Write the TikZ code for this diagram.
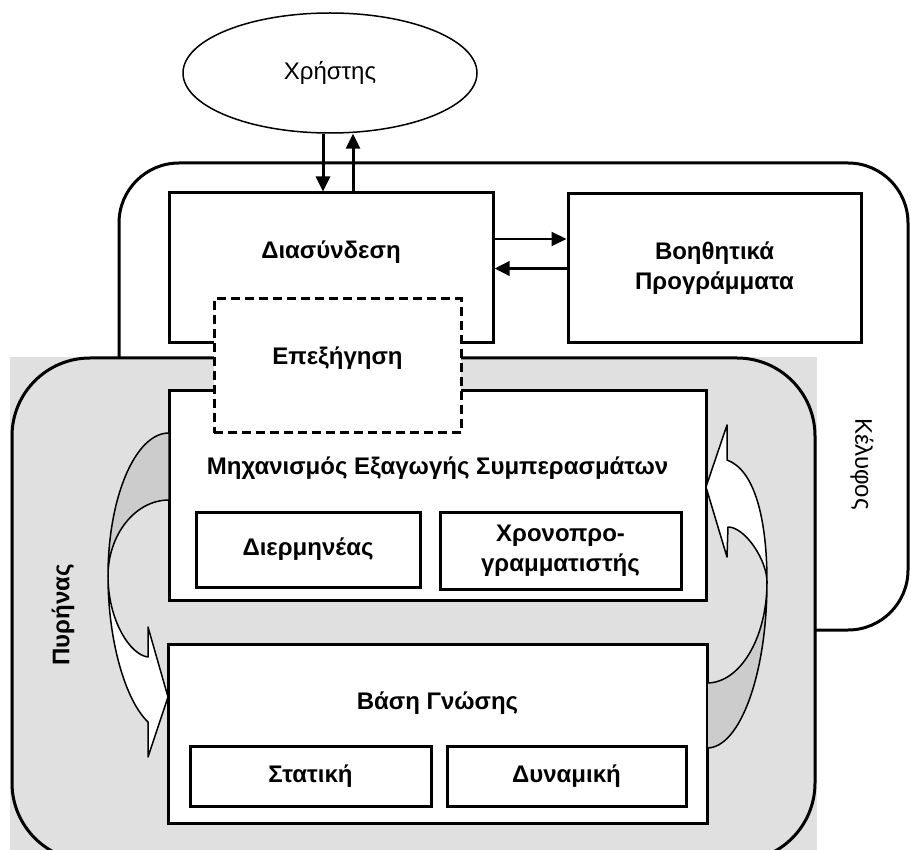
\documentclass[tikz,border=0pt]{standalone}
\usepackage{fontspec}
\setmainfont{Liberation Sans}
\usetikzlibrary{arrows.meta,shapes.geometric}
\definecolor{coregray}{HTML}{E0E0E0}
\definecolor{bandgray}{HTML}{CCCCCC}
\tikzset{
  box/.style={draw,line width=3pt,fill=white,inner sep=0pt,align=center,
    font=\fontsize{24}{30}\selectfont\bfseries},
  expbox/.style={box,dash pattern=on 9pt off 5pt},
  txt/.style={inner sep=0pt,align=center,font=\fontsize{24}{30}\selectfont\bfseries},
  arrow/.style={-{Triangle[length=15pt,width=14pt]},line width=3pt},
  ribbon/.style={draw,line width=1.5pt,line join=round},
  outline/.style={line width=3pt}
}

\begin{document}
\begin{tikzpicture}[x=1pt,y=-1pt]
  \useasboundingbox (0,0) rectangle (911,850);
  \clip (0,0) rectangle (911,850);
  \fill[coregray] (10,357) rectangle (817,850);
  \draw[outline,rounded corners=78pt] (12,358) rectangle (815,861);
  \draw[outline,rounded corners=60pt] (815,630) -| (908,163) -| (119,358);

  \node[ellipse,draw,line width=1.5pt,minimum width=294pt,minimum height=120pt,
    font=\fontsize{24}{30}\selectfont] (user) at (330,73) {Χρήστης};
  \node[box,minimum width=324pt,minimum height=150pt] (iface) at (331,268) {};
  \node[box,minimum width=293pt,minimum height=149pt] (aux) at (714.5,268.5) {Βοηθητικά\\Προγράμματα};
  \node[box,minimum width=537pt,minimum height=209pt] (infer) at (437.5,495.5) {};
  \node[box,minimum width=224pt,minimum height=75pt] (interp) at (308,549.5) {Διερμηνέας};
  \node[box,minimum width=241pt,minimum height=77pt] (sched) at (560.5,550.5) {Χρονοπρο-\\γραμματιστής};
  \node[box,minimum width=539pt,minimum height=179pt] (kb) at (437.5,733.5) {};
  \node[box,minimum width=241pt,minimum height=60pt] (static) at (310.5,776) {Στατική};
  \node[box,minimum width=239pt,minimum height=60pt] (dynamic) at (566.5,776) {Δυναμική};
  \node[expbox,minimum width=247pt,minimum height=134pt] (expl) at (337.5,366) {};

  \node[txt] (ifacelbl) at ([yshift=16pt]iface.center) {Διασύνδεση};
  \node[txt] (expllbl) at ([yshift=8pt]expl.center) {Επεξήγηση};
  \node[txt] (inferlbl) at ([yshift=27pt]infer.center) {Μηχανισμός Εξαγωγής Συμπερασμάτων};
  \node[txt] (kblbl) at ([yshift=30pt]kb.center) {Βάση Γνώσης};
  \node[txt,rotate=90] (corelbl) at (63,615) {Πυρήνας};
  \node[txt,rotate=-90,font=\fontsize{24}{30}\selectfont] (shelllbl) at (862,464) {Κέλυφος};

  \draw[arrow] ([xshift=-7pt]user.south) -- ([xshift=-7pt]user.south |- iface.north);
  \draw[arrow] ([xshift=23pt]user.south |- iface.north) -- ([xshift=23pt]user.south);
  \draw[arrow,line width=2pt] ([yshift=29pt]iface.east) -- ([yshift=29pt]iface.east -| aux.west);
  \draw[arrow,line width=3.5pt] (aux.west) -- (aux.west -| iface.east);

  \filldraw[ribbon,fill=bandgray] (169,433) .. controls (135,433) and (108,498) .. (108,576)
    .. controls (108,535) and (135,500) .. (169,500) -- cycle;
  \filldraw[ribbon,fill=white] (108,576) .. controls (108,620) and (130,655) .. (148,657)
    -- (148,627) -- (168,697) -- (148,757) -- (148,722)
    .. controls (125,700) and (108,640) .. (108,576) -- cycle;
  \filldraw[ribbon,fill=bandgray] (707,748) .. controls (740,748) and (767,674) .. (767,582)
    .. controls (767,638) and (740,683) .. (707,683) -- cycle;
  \filldraw[ribbon,fill=white] (767,582) .. controls (767,560) and (745,527) .. (728,527)
    -- (727,557) -- (706,487) -- (727,425) -- (727,460)
    .. controls (755,470) and (767,520) .. (767,582) -- cycle;
\end{tikzpicture}
\end{document}
